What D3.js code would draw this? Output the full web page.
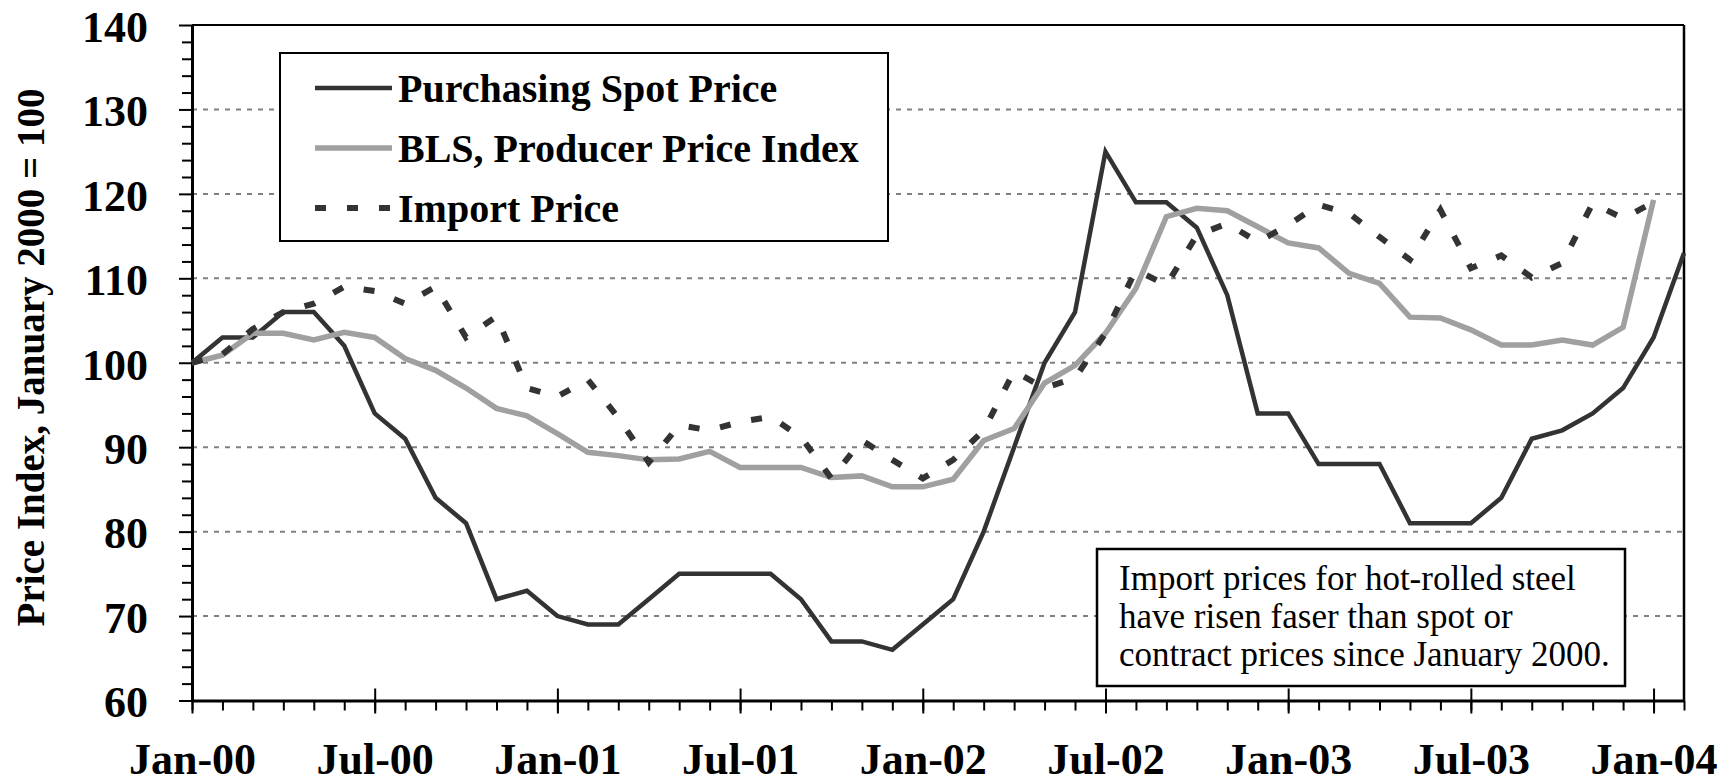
<!DOCTYPE html>
<html>
<head>
<meta charset="utf-8">
<script src="https://cdn.jsdelivr.net/npm/d3@7"></script>
<style>
  body { margin: 0; background: #fff; }
  svg text { font-family: "Liberation Serif", "Times New Roman", serif; }
</style>
</head>
<body>
<script>
const width = 1735;
const height = 783;

// months run Jan-00 (0) .. Feb-04 (49)
const monthLabels = ["Jan-00", "Jul-00", "Jan-01", "Jul-01", "Jan-02", "Jul-02", "Jan-03", "Jul-03", "Jan-04"];
const yTicks = [60, 70, 80, 90, 100, 110, 120, 130, 140];

const spotPrice = [100, 103, 103, 106, 106, 102, 94, 91, 84, 81, 72, 73, 70, 69, 69, 72, 75, 75, 75, 75,
    72, 67, 67, 66, 69, 72, 80, 90, 100, 106, 125, 119, 119, 116, 108, 94, 94, 88, 88, 88,
    81, 81, 81, 84, 91, 92, 94, 97, 103, 113];
const blsPPI = [100, 100.9, 103.5, 103.5, 102.7, 103.6, 103, 100.5, 99.1, 97, 94.6, 93.7, 91.6, 89.4, 89,
    88.5, 88.6, 89.5, 87.6, 87.6, 87.6, 86.4, 86.6, 85.3, 85.3, 86.2, 90.8, 92.2, 97.6, 99.7,
    103.5, 108.8, 117.3, 118.3, 118, 116.1, 114.2, 113.6, 110.6, 109.4, 105.4, 105.3, 103.9,
    102.1, 102.1, 102.7, 102.1, 104.2, 119.3];
const importPrice = [100, 101, 104, 106, 107, 109, 108.5, 107, 109, 103, 105.5, 97, 96, 98, 93.5, 88.2,
    92.6, 92, 93, 93.6, 91.2, 86.3, 90.8, 88.5, 86.3, 88.5, 92, 99, 97, 98.2, 103.5, 111,
    109.2, 115.1, 116.5, 114.3, 116.3, 118.7, 117.7, 114.9, 112.2, 118.1, 111.2, 112.7, 110.1,
    111.8, 118.9, 117.1, 119];

const seriesNames = ["Purchasing Spot Price", "BLS, Producer Price Index", "Import Price"];
const noteLines = ["Import prices for hot-rolled steel", "have risen faser than spot or", "contract prices since January 2000."];

const x = d3.scaleLinear().domain([0, 49]).range([192, 1684]);
const y = d3.scaleLinear().domain([60, 140]).range([700.5, 25]);

const svg = d3.select("body").append("svg")
    .attr("width", width)
    .attr("height", height);

svg.append("rect").attr("width", width).attr("height", height).attr("fill", "#fff");

// dotted gridlines
svg.append("g")
    .selectAll("line")
    .data(yTicks.filter(d => d > 60))
    .enter()
    .append("line")
    .attr("x1", x(0)).attr("x2", x(49))
    .attr("y1", d => y(d)).attr("y2", d => y(d))
    .attr("stroke", "#808080")
    .attr("stroke-width", 2)
    .attr("stroke-dasharray", "5,6");

// frame top / right
svg.append("line").attr("x1", x(0)).attr("x2", x(49)).attr("y1", y(140)).attr("y2", y(140))
    .attr("stroke", "#000").attr("stroke-width", 2);
svg.append("line").attr("x1", x(49)).attr("x2", x(49)).attr("y1", y(140)).attr("y2", y(60))
    .attr("stroke", "#000").attr("stroke-width", 2.5);

// y axis
const yAxis = svg.append("g")
    .attr("transform", `translate(${x(0)},0)`)
    .call(d3.axisLeft(y)
        .tickValues(d3.range(60, 141, 2))
        .tickSizeInner(10)
        .tickSizeOuter(0)
        .tickPadding(34)
        .tickFormat(d => d % 10 === 0 ? d : ""));
yAxis.select(".domain").attr("stroke-width", 3);
yAxis.selectAll(".tick line").attr("stroke-width", 2)
    .filter(d => d % 10 === 0).attr("x2", -13);
yAxis.selectAll(".tick text")
    .attr("dy", "0.37em")
    .attr("font-size", 44)
    .attr("font-weight", "bold")
    .attr("font-family", "Liberation Serif");

// x axis: monthly minor ticks
const xMinor = svg.append("g")
    .attr("transform", `translate(0,${y(60)})`)
    .call(d3.axisBottom(x)
        .tickValues(d3.range(0, 50))
        .tickSizeInner(10)
        .tickSizeOuter(0)
        .tickFormat(""));
xMinor.select(".domain").attr("stroke-width", 3);
xMinor.selectAll(".tick line").attr("stroke-width", 2);

// x axis: half-year major ticks with labels
const xMajor = svg.append("g")
    .attr("transform", `translate(0,${y(60)})`)
    .call(d3.axisBottom(x)
        .tickValues(d3.range(0, 49, 6))
        .tickSizeInner(13)
        .tickSizeOuter(0)
        .tickPadding(29)
        .tickFormat((d, i) => monthLabels[i]));
xMajor.select(".domain").remove();
xMajor.selectAll(".tick line").attr("y1", -12).attr("stroke-width", 2);
xMajor.selectAll(".tick text")
    .attr("font-size", 44)
    .attr("font-weight", "bold")
    .attr("font-family", "Liberation Serif");

// y title
svg.append("text")
    .attr("transform", "translate(44,357.5) rotate(-90)")
    .attr("text-anchor", "middle")
    .attr("font-size", 39)
    .attr("font-weight", "bold")
    .text("Price Index, January 2000 = 100");

// series
const line = d3.line().x((d, i) => x(i)).y(d => y(d));
const styles = [
    { color: "#333333", width: 4.5, dash: null },
    { color: "#a0a0a0", width: 5.5, dash: null },
    { color: "#333333", width: 6, dash: "11,21" }
];
[spotPrice, blsPPI, importPrice].forEach((data, k) => {
    svg.append("path")
        .datum(data)
        .attr("d", line)
        .attr("fill", "none")
        .attr("stroke", styles[k].color)
        .attr("stroke-width", styles[k].width)
        .attr("stroke-linejoin", "miter")
        .attr("stroke-dasharray", styles[k].dash);
});

// legend
const legend = svg.append("g");
legend.append("rect")
    .attr("x", 280).attr("y", 53).attr("width", 608).attr("height", 188)
    .attr("fill", "#fff").attr("stroke", "#000").attr("stroke-width", 2);
const rows = legend.selectAll("g.row")
    .data(seriesNames)
    .enter()
    .append("g")
    .attr("class", "row")
    .attr("transform", (d, i) => `translate(0,${88 + i * 60})`);
rows.append("line")
    .attr("x1", 315).attr("x2", 392)
    .attr("stroke", (d, i) => styles[i].color)
    .attr("stroke-width", (d, i) => styles[i].width)
    .attr("stroke-dasharray", (d, i) => styles[i].dash);
rows.append("text")
    .attr("x", 398).attr("y", 14)
    .attr("font-size", 40)
    .attr("font-weight", "bold")
    .text(d => d);

// note box
svg.append("rect")
    .attr("x", 1097).attr("y", 549).attr("width", 528).attr("height", 137)
    .attr("fill", "#fff").attr("stroke", "#000").attr("stroke-width", 2.5);
svg.append("g")
    .selectAll("text")
    .data(noteLines)
    .enter()
    .append("text")
    .attr("x", 1119)
    .attr("y", (d, i) => 590 + i * 38)
    .attr("font-size", 35)
    .text(d => d);
</script>
</body>
</html>
